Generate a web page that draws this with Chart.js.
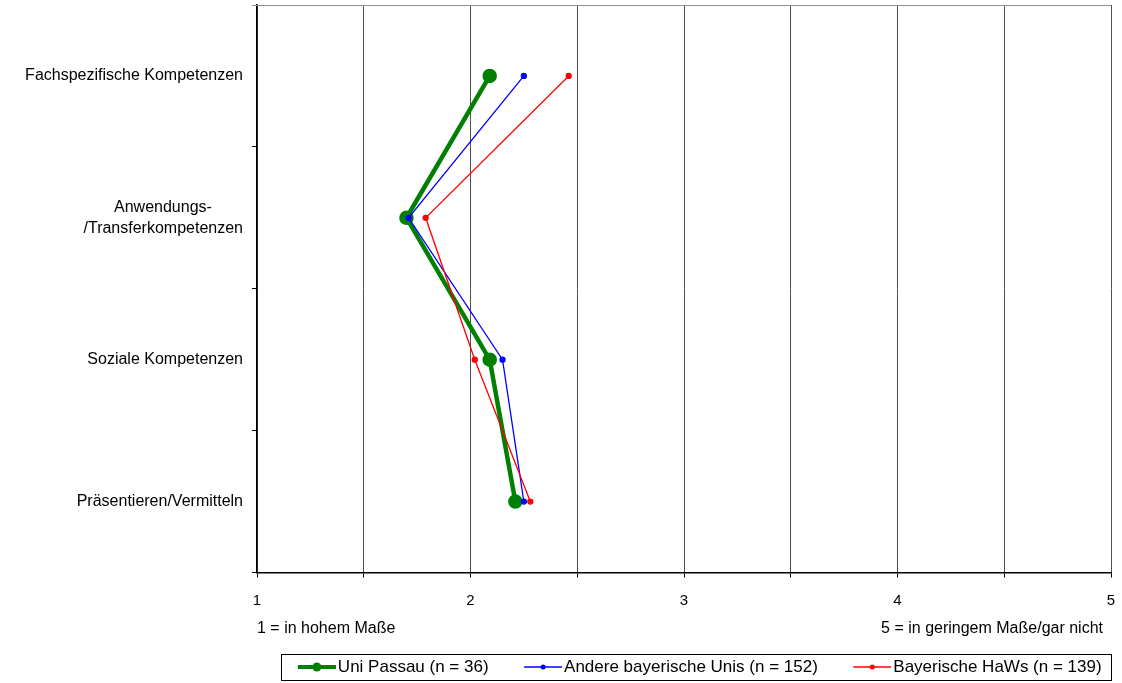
<!DOCTYPE html>
<html><head><meta charset="utf-8">
<script src="https://cdn.jsdelivr.net/npm/chart.js@4"></script>
<style>html,body{margin:0;padding:0;background:#fff;}canvas{display:block;}</style>
</head><body>
<canvas id="c" width="1122" height="683"></canvas>
<script>
// ---- data ----
const categories = ["Fachspezifische Kompetenzen", ["Anwendungs-       ", "/Transferkompetenzen"], "Soziale Kompetenzen", "Präsentieren/Vermitteln"];
const uniPassau = [2.09, 1.70, 2.09, 2.21];
const andereUnis = [2.25, 1.71, 2.15, 2.25];
const bayHaWs = [2.46, 1.79, 2.02, 2.28];
const seriesNames = ["Uni Passau (n = 36)", "Andere bayerische Unis (n = 152)", "Bayerische HaWs (n = 139)"];
const xTickLabels = ["1", "2", "3", "4", "5"];
const scaleNotes = ["1 = in hohem Maße", "5 = in geringem Maße/gar nicht"];

const FONT = "'Liberation Sans', Arial, sans-serif";
Chart.defaults.font.family = FONT;
Chart.defaults.color = '#000';

const BW = 63;                 // legend symbol slot width
const ICON_W = BW + 13;        // icon canvas width (transparent left margin)
function makeIcon(color, lw, r) {
  const c = document.createElement('canvas');
  c.width = ICON_W; c.height = 12;
  const g = c.getContext('2d');
  const x0 = ICON_W - 38;
  g.strokeStyle = color; g.lineWidth = lw;
  g.beginPath(); g.moveTo(x0, 6); g.lineTo(ICON_W, 6); g.stroke();
  g.fillStyle = color; g.beginPath(); g.arc(x0 + 19, 6, r, 0, Math.PI * 2); g.fill();
  return c;
}
const icons = [makeIcon('#008000', 4, 4.5), makeIcon('#0000ff', 1.5, 2.5), makeIcon('#ff0000', 1.5, 2.5)];

const framePlugin = {
  id: 'frame',
  afterDraw(chart) {
    const ctx = chart.ctx, a = chart.chartArea;
    ctx.save();
    ctx.strokeStyle = '#909090'; ctx.lineWidth = 1;
    ctx.beginPath(); ctx.moveTo(a.left - 5, a.top + 0.5); ctx.lineTo(a.right, a.top + 0.5); ctx.stroke();
    // scale notes
    const xs = chart.scales.x;
    const y = xs.bottom - 26;
    ctx.fillStyle = '#000'; ctx.font = '16px ' + FONT; ctx.textBaseline = 'middle';
    ctx.textAlign = 'left'; ctx.fillText(scaleNotes[0], a.left, y);
    ctx.textAlign = 'right'; ctx.fillText(scaleNotes[1], a.right - 8, y);
    // legend frame
    const hb = chart.legend.legendHitBoxes;
    if (hb && hb.length) {
      const l = hb[0].left + BW - 31.5 - 17;
      const last = hb[hb.length - 1];
      const r = last.left + last.width + 9;
      const t = hb[0].top + hb[0].height / 2 - 13;
      ctx.strokeStyle = '#000'; ctx.lineWidth = 1;
      ctx.strokeRect(Math.round(l) + 0.5, Math.round(t) + 0.5, Math.round(r - l), 26);
    }
    ctx.restore();
  }
};

new Chart(document.getElementById('c'), {
  type: 'line',
  data: {
    labels: categories,
    datasets: [
      { label: seriesNames[0], data: uniPassau, borderColor: '#008000', backgroundColor: '#008000', borderWidth: 4.5, pointRadius: 5, pointHoverRadius: 5, order: 3 },
      { label: seriesNames[1], data: andereUnis, borderColor: '#0000ff', backgroundColor: '#0000ff', borderWidth: 1.3, pointRadius: 2.5, pointHoverRadius: 2.5, order: 2 },
      { label: seriesNames[2], data: bayHaWs, borderColor: '#ff0000', backgroundColor: '#ff0000', borderWidth: 1.3, pointRadius: 2.5, pointHoverRadius: 2.5, order: 1 }
    ]
  },
  options: {
    indexAxis: 'y',
    responsive: false,
    animation: false,
    events: [],
    layout: { autoPadding: false, padding: { top: 5, right: 11, left: 0, bottom: -2.5 } },
    scales: {
      x: {
        type: 'linear', min: 1, max: 5,
        ticks: { stepSize: 0.5, autoSkip: false, maxRotation: 0, padding: 14, font: { size: 15 },
          callback: v => Number.isInteger(v) ? xTickLabels[v - 1] : '' },
        grid: { color: '#505050', lineWidth: 1, drawTicks: true, tickLength: 5, tickColor: '#000' },
        border: { color: '#000', width: 1.5 },
        title: { display: true, text: ' ', padding: { top: 0, bottom: 13 }, font: { size: 15 } },
        afterFit: s => { s.paddingLeft = 0; s.paddingRight = 0; }
      },
      y: {
        type: 'category', offset: true,
        ticks: { autoSkip: false, padding: 9, font: { size: 16, lineHeight: 1.3 } },
        grid: { offset: true, drawOnChartArea: false, drawTicks: true, tickLength: 5, color: '#000' },
        border: { color: '#000', width: 1.5 },
        afterFit: s => { s.width = 257; s.paddingTop = 0; s.paddingBottom = 0; }
      }
    },
    plugins: {
      tooltip: { enabled: false },
      legend: {
        position: 'bottom', fullSize: false,
        labels: {
          usePointStyle: true, pointStyleWidth: BW, padding: 4, font: { size: 17 }, color: '#000',
          generateLabels: chart => chart.data.datasets.map((ds, i) => ({
            text: ds.label, pointStyle: icons[i], fillStyle: ds.borderColor, strokeStyle: ds.borderColor,
            lineWidth: 0, hidden: false, datasetIndex: i, fontColor: '#000'
          }))
        }
      }
    }
  },
  plugins: [framePlugin]
});
</script>
</body></html>
